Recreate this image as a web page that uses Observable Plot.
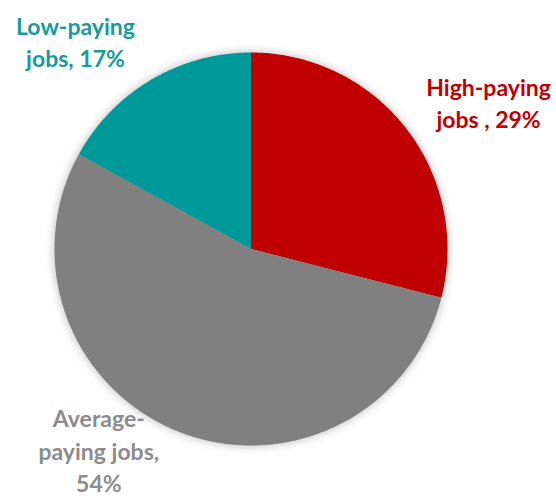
<!DOCTYPE html>
<html>
<head>
<meta charset="utf-8">
<script src="https://cdn.jsdelivr.net/npm/d3@7"></script>
<script src="https://cdn.jsdelivr.net/npm/@observablehq/plot@0.6"></script>
<style>
  html, body { margin: 0; padding: 0; background: #fff; }
  #chart svg { display: block; }
</style>
</head>
<body>
<div id="chart"></div>
<script>
// Data
const categories = ["High-paying", "Average-paying", "Low-paying"];
const shares = [29, 54, 17];
const labels = ["High-paying\njobs , 29%", "Average-\npaying jobs,\n54%", "Low-paying\njobs, 17%"];
const sliceColors = ["#c00000", "#808080", "#009999"];
const labelColors = ["#c00000", "#8c8c8c", "#179b9b"];

const slices = categories.map((c, i) => ({category: c, value: shares[i], label: labels[i], color: sliceColors[i], labelColor: labelColors[i]}));

// angles clockwise from 12 o'clock
const arcs = d3.pie().sort(null).value(d => d.value)(slices);

const polys = [];
arcs.forEach(a => {
  const n = Math.max(8, Math.ceil((a.endAngle - a.startAngle) / 0.01));
  polys.push({category: a.data.category, color: a.data.color, x: 0, y: 0});
  for (let k = 0; k <= n; k++) {
    const t = a.startAngle + (a.endAngle - a.startAngle) * k / n;
    polys.push({category: a.data.category, color: a.data.color, x: Math.sin(t), y: Math.cos(t)});
  }
  polys.push({category: a.data.category, color: a.data.color, x: 0, y: 0});
});

// label anchor: mid angle, radius 1.15, plus offsets
const labelStyle = {
  "High-paying": {dx: 59, dy: -9},
  "Average-paying": {dx: -69, dy: -10},
  "Low-paying": {dx: -60.5, dy: -14}
};
const labelData = arcs.map(a => {
  const m = (a.startAngle + a.endAngle) / 2;
  return {category: a.data.category, label: a.data.label, color: a.data.labelColor,
          x: 1.15 * Math.sin(m), y: 1.15 * Math.cos(m)};
});

const cx = 250.5, cy = 248.5, R = 196.5;

const textMarks = labelData.map(d => Plot.text([d], {
  x: "x", y: "y", text: "label", fill: d.color,
  dx: labelStyle[d.category].dx, dy: labelStyle[d.category].dy,
  textAnchor: "middle", lineAnchor: "middle", lineHeight: 1.42,
  fontSize: 23, fontWeight: "bold", fontFamily: "Lato"
}));

const chart = Plot.plot({
  width: 556, height: 498,
  margin: 0,
  x: {domain: [-1, 1], range: [cx - R, cx + R], axis: null},
  y: {domain: [-1, 1], range: [cy + R, cy - R], axis: null},
  style: {background: "#fff", fontFamily: "Lato"},
  marks: [
    Plot.line(polys, {x: "x", y: "y", z: "category", fill: "color", stroke: "none", curve: "linear"}),
    ...textMarks
  ]
});
document.getElementById("chart").appendChild(chart);
const g = chart.querySelector('g[aria-label="line"]');
if (g) g.style.filter = "drop-shadow(0px 0px 5px rgba(0,0,0,0.28))";
</script>
</body>
</html>
